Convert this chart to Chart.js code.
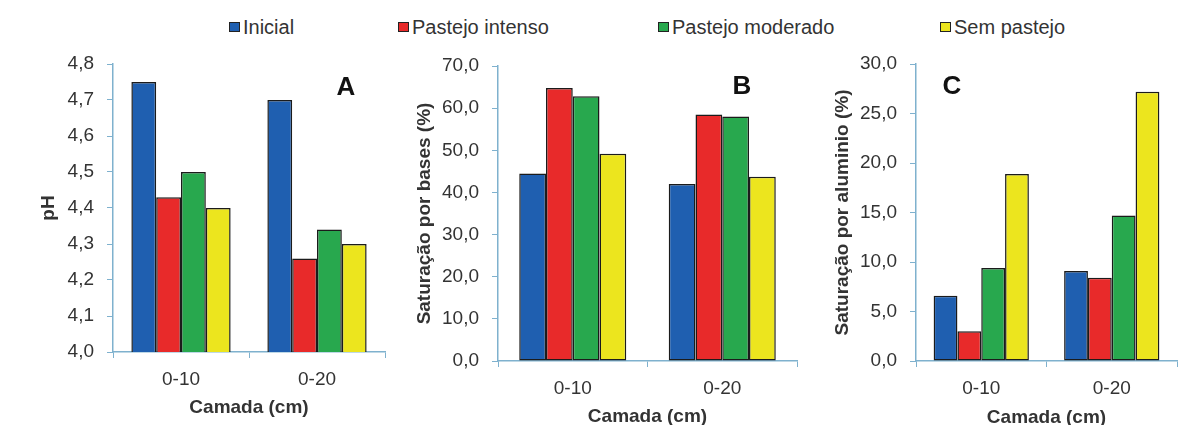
<!DOCTYPE html>
<html lang="pt">
<head>
    <meta charset="UTF-8">
    <title>pH, saturação por bases e por alumínio</title>
    <script src="https://cdn.jsdelivr.net/npm/chart.js"></script>
    <style>
        body {
            margin: 0;
            width: 1179px;
            height: 425px;
            overflow: hidden;
            position: relative;
            background: #fff;
            font-family: 'Liberation Sans', Arial, sans-serif;
        }
        .painel { position: absolute; top: 0; }
        .letra {
            position: absolute;
            transform: translate(-50%, -50%);
            font-weight: bold;
            font-size: 26px;
            line-height: 1;
            color: #111;
        }
        .item {
            position: absolute;
            top: 17px;
            height: 20px;
            display: flex;
            align-items: center;
            font-size: 20px;
            color: #333;
            white-space: nowrap;
        }
        .item i {
            display: inline-block;
            box-sizing: border-box;
            width: 11px;
            height: 10px;
            border: 1.5px solid #222;
            margin-right: 3px;
        }
    </style>
</head>
<body>
    <div id="legenda"></div>
    <canvas id="graficoA" class="painel"></canvas>
    <canvas id="graficoB" class="painel"></canvas>
    <canvas id="graficoC" class="painel"></canvas>
    <div class="letra" style="left:346px; top:86px">A</div>
    <div class="letra" style="left:742px; top:85px">B</div>
    <div class="letra" style="left:952px; top:85px">C</div>

    <script>
        // Dados
        const camadas = ['0-10', '0-20'];
        const tratamentos = ['Inicial', 'Pastejo intenso', 'Pastejo moderado', 'Sem pastejo'];

        const phInicial  = [4.75, 4.70];
        const phIntenso  = [4.43, 4.26];
        const phModerado = [4.50, 4.34];
        const phSem      = [4.40, 4.30];

        const vInicial  = [44.5, 42.0];
        const vIntenso  = [64.8, 58.5];
        const vModerado = [62.8, 58.0];
        const vSem      = [49.2, 43.7];

        const mInicial  = [6.6, 9.1];
        const mIntenso  = [3.0, 8.4];
        const mModerado = [9.4, 14.7];
        const mSem      = [18.9, 27.2];

        // Estilo
        const cores = ['#1f5fb0', '#e82a2a', '#28a84e', '#ece51e'];
        const corEixo = '#7fb1ce';
        const corTexto = '#333';
        const legendaX = [229, 398, 658, 940];
        const ALTURA = 440;

        // Legenda em HTML
        const legenda = document.getElementById('legenda');
        tratamentos.forEach((nome, i) => {
            const el = document.createElement('div');
            el.className = 'item';
            el.style.left = legendaX[i] + 'px';
            el.innerHTML = `<i style="background:${cores[i]}"></i>${nome}`;
            legenda.appendChild(el);
        });

        function virgula(v) {
            return Number(v).toFixed(1).replace('.', ',');
        }

        function painel(id, cfg) {
            const canvas = document.getElementById(id);
            canvas.width = cfg.largura;
            canvas.height = ALTURA;
            canvas.style.left = cfg.esquerda + 'px';

            const series = [cfg.inicial, cfg.intenso, cfg.moderado, cfg.sem];

            return new Chart(canvas, {
                type: 'bar',
                data: {
                    labels: camadas,
                    datasets: series.map((valores, i) => ({
                        label: tratamentos[i],
                        data: valores,
                        backgroundColor: cores[i],
                        borderColor: '#1b1b1b',
                        borderWidth: 1.5,
                        borderSkipped: false,
                        barPercentage: 1,
                        categoryPercentage: cfg.grupo
                    }))
                },
                options: {
                    responsive: false,
                    animation: false,
                    layout: {
                        padding: {
                            top: cfg.topo,
                            right: cfg.largura - (cfg.eixoDir - cfg.esquerda),
                            left: 0,
                            bottom: 0
                        }
                    },
                    plugins: {
                        legend: { display: false },
                        tooltip: { enabled: false }
                    },
                    scales: {
                        x: {
                            afterFit: (s) => { s.height = ALTURA - cfg.base; },
                            grid: {
                                drawOnChartArea: false,
                                color: corEixo,
                                tickLength: 6
                            },
                            border: { color: corEixo, width: 1.5 },
                            ticks: {
                                color: corTexto,
                                padding: 10,
                                font: { family: "'Liberation Sans', Arial", size: 19, lineHeight: 1.2 }
                            },
                            title: {
                                display: true,
                                text: 'Camada (cm)',
                                color: corTexto,
                                font: { family: "'Liberation Sans', Arial", size: 19, weight: 'bold', lineHeight: 1.2 },
                                padding: { top: 0, bottom: ALTURA - cfg.tituloXY - 11.4 }
                            }
                        },
                        y: {
                            min: cfg.min,
                            max: cfg.max,
                            afterFit: (s) => { s.width = cfg.eixoEsq - cfg.esquerda; },
                            grid: {
                                drawOnChartArea: false,
                                color: corEixo,
                                tickLength: 6
                            },
                            border: { color: corEixo, width: 1.5 },
                            ticks: {
                                stepSize: cfg.passo,
                                color: corTexto,
                                padding: 13,
                                font: { family: "'Liberation Sans', Arial", size: 19 },
                                callback: (v) => virgula(v)
                            },
                            title: {
                                display: true,
                                text: cfg.tituloY,
                                color: corTexto,
                                font: { family: "'Liberation Sans', Arial", size: 19, weight: 'bold', lineHeight: 1.2 },
                                padding: { top: cfg.tituloYX - cfg.esquerda - 11.4, bottom: 0 }
                            }
                        }
                    }
                }
            });
        }

        painel('graficoA', {
            esquerda: 0, largura: 392,
            eixoEsq: 113, eixoDir: 385, topo: 64, base: 352,
            min: 4.0, max: 4.8, passo: 0.1,
            tituloY: 'pH', tituloYX: 49, tituloXY: 408,
            grupo: 0.73,
            inicial: phInicial, intenso: phIntenso, moderado: phModerado, sem: phSem
        });

        painel('graficoB', {
            esquerda: 392, largura: 408,
            eixoEsq: 498, eixoDir: 797, topo: 66, base: 361,
            min: 0, max: 70, passo: 10,
            tituloY: 'Saturação por bases (%)', tituloYX: 425, tituloXY: 417,
            grupo: 0.716,
            inicial: vInicial, intenso: vIntenso, moderado: vModerado, sem: vSem
        });

        painel('graficoC', {
            esquerda: 800, largura: 379,
            eixoEsq: 916, eixoDir: 1177, topo: 64, base: 361,
            min: 0, max: 30, passo: 5,
            tituloY: 'Saturação por aluminio (%)', tituloYX: 843, tituloXY: 418,
            grupo: 0.73,
            inicial: mInicial, intenso: mIntenso, moderado: mModerado, sem: mSem
        });
    </script>
</body>
</html>
